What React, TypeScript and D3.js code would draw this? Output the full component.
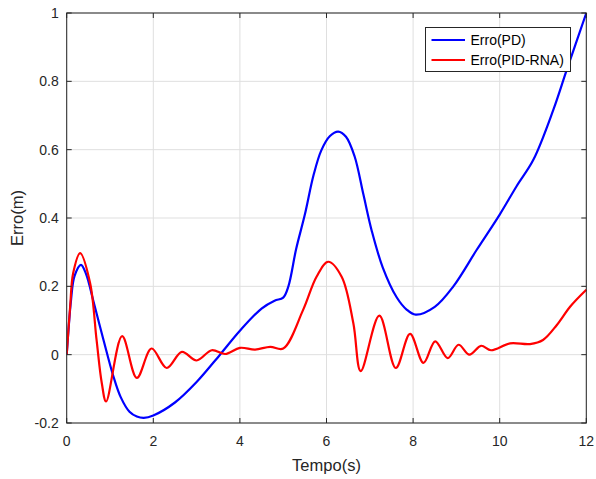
import React from "react";
import * as d3 from "d3";

// time (s) and error (m)
const pdTime = [0, 0.04, 0.1, 0.18, 0.33, 0.45, 0.61, 0.85, 1.08, 1.25, 1.45, 1.62, 1.78, 2.0, 2.5, 3.0, 3.54, 4.0, 4.5, 4.8, 5.0, 5.12, 5.3, 5.5, 5.7, 5.88, 6.08, 6.27, 6.45, 6.65, 6.85, 7.05, 7.3, 7.62, 7.85, 8.06, 8.5, 8.93, 9.47, 10.0, 10.39, 10.78, 11.24, 11.55, 12.0];
const pdErr = [0, 0.07, 0.16, 0.23, 0.263, 0.235, 0.16, 0.043, -0.064, -0.125, -0.167, -0.181, -0.185, -0.178, -0.14, -0.08, 0, 0.07, 0.135, 0.158, 0.167, 0.2, 0.31, 0.41, 0.525, 0.598, 0.64, 0.653, 0.638, 0.58, 0.47, 0.36, 0.255, 0.168, 0.132, 0.117, 0.14, 0.2, 0.307, 0.41, 0.493, 0.571, 0.717, 0.834, 1.0];

const rnaTime = [0, 0.08, 0.15, 0.31, 0.54, 0.69, 0.81, 0.91, 1.28, 1.62, 1.96, 2.31, 2.66, 3.0, 3.35, 3.66, 4.0, 4.35, 4.7, 5.0, 5.46, 5.77, 6.04, 6.35, 6.62, 6.79, 7.22, 7.6, 7.93, 8.24, 8.51, 8.8, 9.05, 9.3, 9.57, 9.8, 10.24, 10.7, 11.0, 11.32, 11.63, 12.0];
const rnaErr = [0, 0.141, 0.239, 0.297, 0.21, 0.043, -0.083, -0.137, 0.054, -0.068, 0.018, -0.039, 0.008, -0.017, 0.013, 0.002, 0.02, 0.015, 0.023, 0.018, 0.131, 0.228, 0.272, 0.228, 0.092, -0.048, 0.114, -0.039, 0.061, -0.024, 0.039, -0.01, 0.029, 0.0, 0.026, 0.013, 0.033, 0.031, 0.043, 0.087, 0.141, 0.19];

const xTicks = [0, 2, 4, 6, 8, 10, 12];
const yTicks = [-0.2, 0, 0.2, 0.4, 0.6, 0.8, 1];
const legendLabels = ["Erro(PD)", "Erro(PID-RNA)"];
const seriesColors = ["#0000ff", "#ff0000"];

const W = 596, H = 479;
const m = { left: 66.7, right: 9.7, top: 13, bottom: 56 };
const font = "'Liberation Sans', Arial, sans-serif";
const ink = "#262626";

export default function App() {
  const x = d3.scaleLinear().domain([0, 12]).range([m.left, W - m.right]);
  const y = d3.scaleLinear().domain([-0.2, 1]).range([H - m.bottom, m.top]);

  const line = d3.line<[number, number]>()
    .x((d) => x(d[0]))
    .y((d) => y(d[1]))
    .curve(d3.curveCatmullRom.alpha(0.5));

  const series = [
    pdTime.map((t, i) => [t, pdErr[i]] as [number, number]),
    rnaTime.map((t, i) => [t, rnaErr[i]] as [number, number]),
  ];

  const x0 = x(0), x1 = x(12), y0 = y(-0.2), y1 = y(1);
  const tk = 5;

  return (
    <svg width={W} height={H} style={{ position: "absolute", left: 0, top: 0, background: "#fff" }}
      fontFamily={font}>
      <rect x={0} y={0} width={W} height={H} fill="#fff" />
      {/* grid */}
      {xTicks.map((t) => (
        <line key={"gx" + t} x1={x(t)} x2={x(t)} y1={y0} y2={y1} stroke="#dfdfdf" strokeWidth={1} />
      ))}
      {yTicks.map((t) => (
        <line key={"gy" + t} x1={x0} x2={x1} y1={y(t)} y2={y(t)} stroke="#dfdfdf" strokeWidth={1} />
      ))}

      {/* curves */}
      <defs>
        <clipPath id="plot"><rect x={x0} y={y1 - 1} width={x1 - x0 + 1} height={y0 - y1 + 2} /></clipPath>
      </defs>
      {series.map((s, i) => (
        <path key={i} d={line(s) ?? ""} fill="none" stroke={seriesColors[i]} strokeWidth={2.2}
          strokeLinejoin="round" clipPath="url(#plot)" />
      ))}

      {/* box & ticks */}
      <rect x={x0} y={y1} width={x1 - x0} height={y0 - y1} fill="none" stroke={ink} strokeWidth={1} />
      {xTicks.map((t) => (
        <g key={"tx" + t}>
          <line x1={x(t)} x2={x(t)} y1={y0} y2={y0 - tk} stroke={ink} />
          <line x1={x(t)} x2={x(t)} y1={y1} y2={y1 + tk} stroke={ink} />
          <text x={x(t)} y={y0 + 23} textAnchor="middle" fontSize={14} fill={ink}>{t}</text>
        </g>
      ))}
      {yTicks.map((t) => (
        <g key={"ty" + t}>
          <line x1={x0} x2={x0 + tk} y1={y(t)} y2={y(t)} stroke={ink} />
          <line x1={x1} x2={x1 - tk} y1={y(t)} y2={y(t)} stroke={ink} />
          <text x={x0 - 8} y={y(t) + 5} textAnchor="end" fontSize={14} fill={ink}>{+t.toFixed(1)}</text>
        </g>
      ))}

      {/* axis labels */}
      <text x={(x0 + x1) / 2} y={471} textAnchor="middle" fontSize={16.5} fill={ink}>Tempo(s)</text>
      <text transform={`translate(23,${(y0 + y1) / 2}) rotate(-90)`} textAnchor="middle" fontSize={16.5} fill={ink}>Erro(m)</text>

      {/* legend */}
      <rect x={425.5} y={27.5} width={145} height={44} fill="#fff" stroke={ink} strokeWidth={1} />
      {legendLabels.map((l, i) => (
        <g key={l}>
          <line x1={431.5} x2={465} y1={40 + i * 20} y2={40 + i * 20} stroke={seriesColors[i]} strokeWidth={2.2} />
          <text x={470.5} y={45 + i * 20} fontSize={14} fill="#000">{l}</text>
        </g>
      ))}
    </svg>
  );
}
